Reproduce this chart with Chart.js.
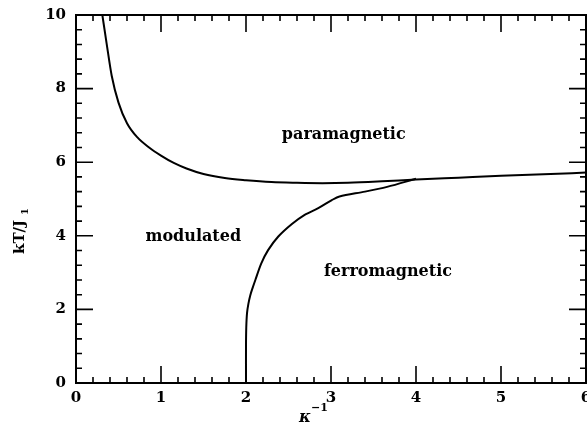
<!DOCTYPE html>
<html>
<head>
<meta charset="utf-8">
<script src="https://cdn.jsdelivr.net/npm/chart.js@4"></script>
<style>
  html, body { margin: 0; padding: 0; background: #fff; }
  #wrap { width: 587px; height: 425px; }
</style>
</head>
<body>
<div id="wrap"><canvas id="c" width="587" height="425"></canvas></div>
<script>
// paramagnetic boundary (upper curve)
const paraX = [0.31, 0.36, 0.42, 0.50, 0.60, 0.72, 0.86, 1.00, 1.15, 1.30, 1.50, 1.75, 2.00, 2.30, 2.60, 2.90, 3.20, 3.60, 4.00, 4.50, 5.00, 5.50, 6.00];
const paraY = [10.0, 9.23, 8.35, 7.62, 7.06, 6.68, 6.40, 6.18, 5.98, 5.83, 5.68, 5.57, 5.51, 5.46, 5.44, 5.43, 5.44, 5.48, 5.53, 5.58, 5.63, 5.67, 5.72];

// ferromagnetic boundary (lower curve)
const ferroX = [2.00, 2.00, 2.003, 2.012, 2.028, 2.05, 2.08, 2.11, 2.18, 2.26, 2.38, 2.54, 2.69, 2.85, 3.01, 3.10, 3.40, 3.66, 4.00];
const ferroY = [0.00, 1.00, 1.50, 1.90, 2.15, 2.38, 2.60, 2.80, 3.25, 3.61, 3.98, 4.32, 4.57, 4.75, 4.97, 5.07, 5.20, 5.33, 5.55];

const xTicks = [0, 1, 2, 3, 4, 5, 6];
const yTicks = [0, 2, 4, 6, 8, 10];

// region labels, in data coordinates
const regionNames = ["paramagnetic", "modulated", "ferromagnetic"];
const regionX = [3.15, 1.38, 3.67];
const regionY = [6.74, 3.97, 3.02];

const serif = "'DejaVu Serif', 'Liberation Serif', serif";

function toPoints(xs, ys) {
  return xs.map((x, i) => ({ x: x, y: ys[i] }));
}

// ticks pointing inwards on all four sides, plus frame and labels
const framePlugin = {
  id: "frame",
  afterDraw(chart) {
    const ctx = chart.ctx;
    const a = chart.chartArea;
    const xs = chart.scales.x;
    const ys = chart.scales.y;
    ctx.save();
    ctx.strokeStyle = "#000";
    ctx.lineWidth = 2;
    ctx.strokeRect(a.left, a.top, a.right - a.left, a.bottom - a.top);

    ctx.lineWidth = 1.6;
    ctx.beginPath();
    for (let i = 0; i <= 30; i++) {
      const px = xs.getPixelForValue(i * 0.2);
      const len = i % 5 === 0 ? 17 : 6;
      ctx.moveTo(px, a.bottom); ctx.lineTo(px, a.bottom - len);
      ctx.moveTo(px, a.top); ctx.lineTo(px, a.top + len);
    }
    for (let i = 0; i <= 25; i++) {
      const py = ys.getPixelForValue(i * 0.4);
      const len = i % 5 === 0 ? 17 : 6;
      ctx.moveTo(a.left, py); ctx.lineTo(a.left + len, py);
      ctx.moveTo(a.right, py); ctx.lineTo(a.right - len, py);
    }
    ctx.stroke();

    // region names
    ctx.fillStyle = "#000";
    ctx.font = "bold 16px " + serif;
    ctx.textAlign = "center";
    ctx.textBaseline = "middle";
    regionNames.forEach((name, i) => {
      ctx.fillText(name, xs.getPixelForValue(regionX[i]), ys.getPixelForValue(regionY[i]));
    });

    // x axis title: kappa^-1
    ctx.font = "bold italic 16px " + serif;
    ctx.textAlign = "center";
    ctx.fillText("κ", 305, 418);
    ctx.font = "bold 11px " + serif;
    ctx.textAlign = "left";
    ctx.fillText("−1", 311, 408);

    // y axis title: kT/J_1
    ctx.translate(20, 230);
    ctx.rotate(-Math.PI / 2);
    ctx.font = "bold 15px " + serif;
    ctx.textAlign = "left";
    ctx.fillText("kT/J", -24, 0);
    ctx.font = "bold 10px " + serif;
    ctx.fillText("1", 15, 5);
    ctx.restore();
  }
};

const lineStyle = {
  showLine: true,
  borderColor: "#000",
  borderWidth: 2,
  pointRadius: 0,
  fill: false
};

new Chart(document.getElementById("c"), {
  type: "scatter",
  data: {
    datasets: [
      Object.assign({ label: "paramagnetic", data: toPoints(paraX, paraY), cubicInterpolationMode: "monotone" }, lineStyle),
      Object.assign({ label: "ferromagnetic", data: toPoints(ferroX, ferroY), tension: 0.3 }, lineStyle)
    ]
  },
  options: {
    responsive: false,
    animation: false,
    layout: { padding: { top: 15, right: 1, left: 0, bottom: 0 } },
    plugins: { legend: { display: false }, tooltip: { enabled: false } },
    scales: {
      x: {
        type: "linear",
        min: 0,
        max: 6,
        afterBuildTicks(scale) { scale.ticks = xTicks.map(v => ({ value: v })); },
        afterFit(scale) {
          scale.height = 42;
          scale.paddingLeft = 0;
          scale.paddingRight = 0;
        },
        grid: { display: false, drawTicks: false },
        border: { display: false },
        ticks: {
          color: "#000",
          padding: 6,
          maxRotation: 0,
          font: { family: serif, size: 15, weight: "bold" }
        }
      },
      y: {
        type: "linear",
        min: 0,
        max: 10,
        afterBuildTicks(scale) { scale.ticks = yTicks.map(v => ({ value: v })); },
        afterFit(scale) {
          scale.width = 76;
          scale.paddingTop = 0;
          scale.paddingBottom = 0;
        },
        grid: { display: false, drawTicks: false },
        border: { display: false },
        ticks: {
          color: "#000",
          padding: 10,
          font: { family: serif, size: 15, weight: "bold" }
        }
      }
    }
  },
  plugins: [framePlugin]
});
</script>
</body>
</html>
